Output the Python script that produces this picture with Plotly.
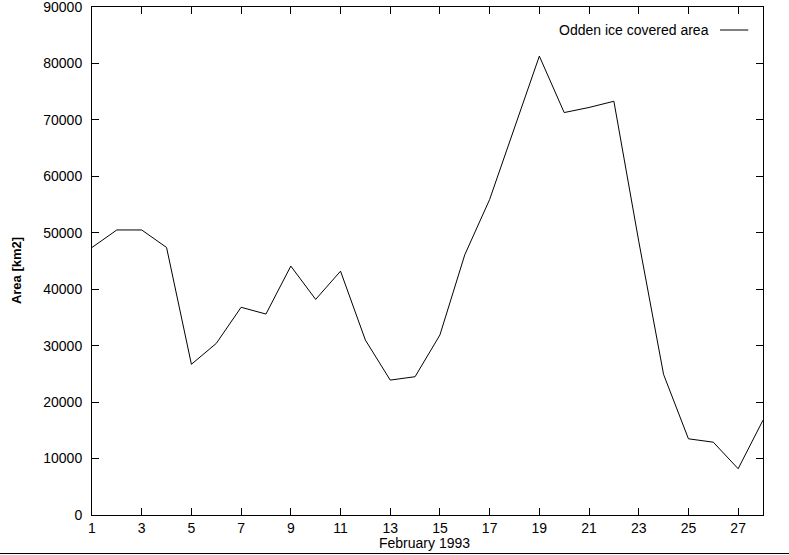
import plotly.graph_objects as go

days = list(range(1, 29))
area_km2 = [47400, 50500, 50500, 47400, 26700, 30400, 36800, 35600, 44100, 38200,
            43200, 31000, 23900, 24500, 31900, 46100, 55900, 68500, 81300, 71300,
            72200, 73300, 48500, 24900, 13500, 12900, 8200, 16800]
x_ticks = list(range(1, 29, 2))
y_ticks = list(range(0, 90001, 10000))
series_name = "Odden ice covered area"
x_title = "February 1993"
y_title = "Area [km2]"

FONT = "Liberation Sans"

fig = go.Figure()
fig.add_trace(go.Scatter(x=days, y=area_km2, mode="lines", name=series_name,
                         line=dict(color="black", width=1), showlegend=False))

axis_common = dict(showgrid=False, zeroline=False, showline=True, linecolor="black",
                   linewidth=1, mirror="ticks", ticks="inside", ticklen=7,
                   tickcolor="black", tickwidth=1, ticklabeloverflow="allow",
                   tickfont=dict(family=FONT, size=14, color="black"))

fig.update_xaxes(range=[1, 28], tickvals=x_ticks, ticktext=[str(v) for v in x_ticks],
                 **axis_common)
fig.update_yaxes(range=[0, 90000], tickvals=y_ticks, ticktext=[str(v) for v in y_ticks],
                 ticklabelstandoff=6, **axis_common)

fig.update_layout(
    width=789, height=555,
    margin=dict(l=92, r=26, t=7, b=40, autoexpand=False),
    paper_bgcolor="white", plot_bgcolor="white",
    font=dict(family=FONT, size=14, color="black"),
)

# legend (gnuplot style: text then line sample on the right)
fig.add_annotation(text=series_name, xref="paper", yref="paper", x=0.922, y=0.9547,
                   xanchor="right", yanchor="middle", showarrow=False,
                   font=dict(family=FONT, size=14, color="black"))
fig.add_shape(type="line", xref="paper", yref="paper", x0=0.936, x1=0.978,
              y0=0.9547, y1=0.9547, line=dict(color="black", width=1))

# axis titles
fig.add_annotation(text=x_title, xref="paper", yref="paper", x=0.496, y=-0.0551,
                   xanchor="center", yanchor="middle", showarrow=False,
                   font=dict(family=FONT, size=14, color="black"))
fig.add_annotation(text="<b>" + y_title + "</b>", xref="paper", yref="paper",
                   x=-0.1133, y=0.482, textangle=-90, xanchor="center", yanchor="middle",
                   showarrow=False, font=dict(family=FONT, size=13, color="black"))

# bottom border line of the image
fig.add_shape(type="line", xref="paper", yref="paper", x0=-0.14, x1=1.04,
              y0=-0.0758, y1=-0.0758, line=dict(color="black", width=1))

fig.write_html("out.html", config={"displayModeBar": False},
               post_script="document.body.style.margin='0';document.body.style.overflow='hidden';")
